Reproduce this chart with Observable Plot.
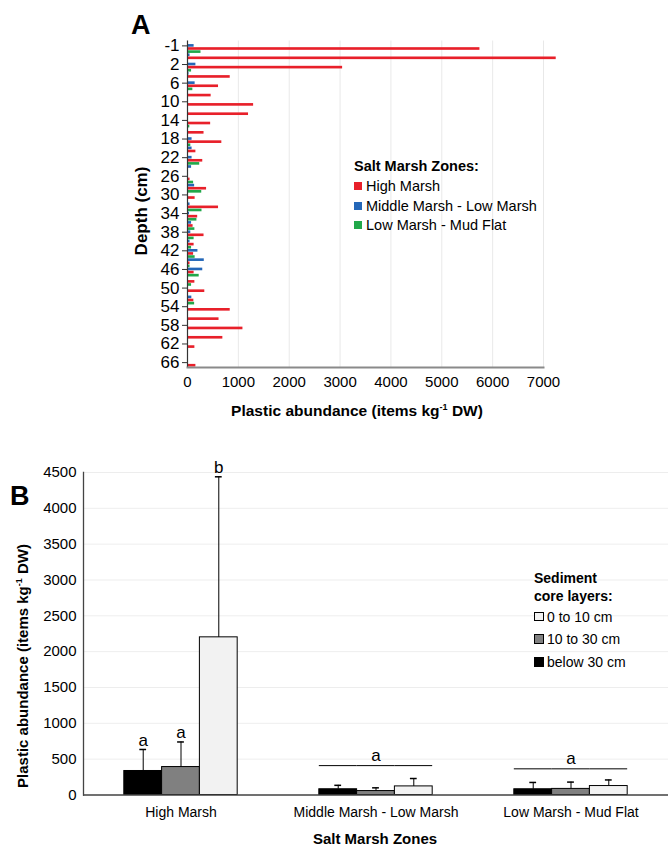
<!DOCTYPE html>
<html><head><meta charset="utf-8">
<script src="https://cdn.jsdelivr.net/npm/d3@7"></script>
<script src="https://cdn.jsdelivr.net/npm/@observablehq/plot@0.6"></script>
<style>
body{margin:0;background:#fff;font-family:"Liberation Sans",Arial,sans-serif;}
#fig{position:relative;width:669px;height:847px;overflow:hidden;background:#fff;}
.t{position:absolute;white-space:nowrap;color:#000;line-height:1;}
.sw{position:absolute;box-sizing:border-box;}
</style></head><body><div id="fig"></div>
<script>
// ---------- Panel A data ----------
const depths = [-1,0,2,4,6,8,10,12,14,16,18,20,22,24,26,28,30,32,34,36,38,40,42,44,46,48,50,52,54,56,58,60,62,64,66];
const highMarsh = [5750,7250,3050,840,610,465,1300,1200,455,325,675,165,300,0,50,375,150,610,200,110,325,130,120,50,130,145,340,125,840,620,1090,695,145,0,165];
const midMarsh  = [130,50,165,30,150,0,0,0,0,0,90,90,90,80,0,140,0,50,40,80,65,50,205,330,300,0,0,85,0,0,0,0,0,0,0];
const lowMarsh  = [0,265,0,80,0,105,0,0,0,45,0,65,0,240,10,120,280,0,285,185,145,130,80,150,50,230,80,0,140,0,0,0,0,0,0];
const zonesA = ["High Marsh","Middle Marsh - Low Marsh","Low Marsh - Mud Flat"];
const zoneColors = ["#e8202a","#2467b8","#21a84a"];
const depthTickLabels = [-1,2,6,10,14,18,22,26,30,34,38,42,46,50,54,58,62,66];
const xTicksA = [0,1000,2000,3000,4000,5000,6000,7000];

// ---------- Panel B data ----------
const zonesB = ["High Marsh","Middle Marsh - Low Marsh","Low Marsh - Mud Flat"];
const layers = ["below 30 cm","10 to 30 cm","0 to 10 cm"];
const layerColors = ["#000000","#808080","#f2f2f2"];
const meanBelow30 = [335,80,80];
const sdBelow30   = [300,55,95];
const mean10to30  = [390,55,85];
const sd10to30    = [350,45,95];
const mean0to10   = [2200,120,125];
const sd0to10     = [2240,110,85];
const lettersHM   = ["a","a","b"];
const bracketLevel = [null,410,365];
const bracketLetter = [null,"a","a"];
const yTicksB = [0,500,1000,1500,2000,2500,3000,3500,4000,4500];

const FONT = '"Liberation Sans", Arial, sans-serif';
const fig = document.getElementById("fig");
const plain = d => String(d);

// ---------- Panel A ----------
const seriesTopToBottom = [zonesA[2], zonesA[1], zonesA[0]];
const key = (d, z) => d + "|" + z;
const seriesVals = {[zonesA[0]]: highMarsh, [zonesA[1]]: midMarsh, [zonesA[2]]: lowMarsh};
const tableA = depths.flatMap((d, i) => seriesTopToBottom.map(z => ({depth: d, zone: z, value: seriesVals[z][i]})));
const yDomainA = depths.flatMap(d => seriesTopToBottom.map(z => key(d, z)));
const yTickKeys = depthTickLabels.map(d => key(d, zonesA[1]));

const plotA = Plot.plot({
  width: 669, height: 430,
  marginLeft: 187, marginRight: 126, marginTop: 40.5, marginBottom: 63,
  style: {fontFamily: FONT, color: "#000", background: "transparent", overflow: "visible"},
  x: {domain: [0, 7000], axis: null},
  y: {domain: yDomainA, padding: 0.15, round: false, axis: null},
  color: {domain: zonesA, range: zoneColors},
  marks: [
    Plot.gridX(xTicksA, {stroke: "#000", strokeOpacity: 0.09}),
    Plot.barX(tableA, {x: "value", y: d => key(d.depth, d.zone), fill: "zone"}),
    Plot.ruleX([0], {stroke: "#333", strokeWidth: 1.2}),
    Plot.frame({anchor: "bottom", stroke: "#8a8a8a", strokeWidth: 2}),
    Plot.axisY(yTickKeys, {tickFormat: k => k.split("|")[0], tickSize: 5, tickPadding: 3, fontSize: 17, label: null, stroke: "#333"}),
    Plot.axisX(xTicksA, {tickFormat: plain, tickSize: 0, tickPadding: 9, fontSize: 15, label: null})
  ]
});
plotA.style.position = "absolute"; plotA.style.left = "0px"; plotA.style.top = "0px";
fig.appendChild(plotA);

// ---------- Panel B ----------
const meansB = [meanBelow30, mean10to30, mean0to10];
const sdsB = [sdBelow30, sd10to30, sd0to10];
const tableB = zonesB.flatMap((z, i) => layers.map((l, j) => ({
  zone: z, layer: l, mean: meansB[j][i], top: meansB[j][i] + sdsB[j][i],
  letter: i === 0 ? lettersHM[j] : null
})));
const bracketRows = zonesB.flatMap((z, i) => bracketLevel[i] == null ? [] : layers.map(l => ({zone: z, layer: l, level: bracketLevel[i]})));
const bracketText = zonesB.flatMap((z, i) => bracketLevel[i] == null ? [] : [{zone: z, layer: layers[1], level: bracketLevel[i], text: bracketLetter[i]}]);

const plotB = Plot.plot({
  width: 669, height: 407,
  marginLeft: 82, marginRight: 0, marginTop: 32, marginBottom: 52.5,
  style: {fontFamily: FONT, color: "#000", background: "transparent", overflow: "visible"},
  fx: {domain: zonesB, padding: 0, axis: null},
  x: {domain: layers, paddingInner: 0, paddingOuter: 1.08, round: false, axis: null},
  y: {domain: [0, 4500], axis: null},
  color: {domain: layers, range: layerColors},
  marks: [
    Plot.gridY(yTicksB, {stroke: "#000", strokeOpacity: 0.07}),
    Plot.barY(tableB, {fx: "zone", x: "layer", y: "mean", fill: "layer", stroke: "#000", strokeWidth: 1}),
    Plot.ruleX(tableB, {fx: "zone", x: "layer", y1: "mean", y2: "top", stroke: "#000", strokeWidth: 1}),
    Plot.tickY(tableB, {fx: "zone", x: "layer", y: "top", insetLeft: 15.5, insetRight: 15.5, stroke: "#000", strokeWidth: 1.5}),
    Plot.text(tableB.filter(d => d.letter), {fx: "zone", x: "layer", y: "top", text: "letter", dy: -9, fontSize: 17}),
    Plot.tickY(bracketRows, {fx: "zone", x: "layer", y: "level", stroke: "#000", strokeWidth: 1}),
    Plot.text(bracketText, {fx: "zone", x: "layer", y: "level", text: "text", dy: -10, fontSize: 17}),
    Plot.ruleY([0], {stroke: "#444", strokeWidth: 1.3}),
    Plot.frame({anchor: "left", facetAnchor: "left", stroke: "#444", strokeWidth: 1.3}),
    Plot.axisY(yTicksB, {tickFormat: plain, tickSize: 0, tickPadding: 7, fontSize: 15, label: null}),
    Plot.axisFx({anchor: "bottom", tickSize: 0, tickPadding: 12, fontSize: 14, label: null})
  ]
});
plotB.style.position = "absolute"; plotB.style.left = "0px"; plotB.style.top = "440px";
fig.appendChild(plotB);

// ---------- HTML text: titles and legends ----------
function txt(html, x, cy, size, bold, opts = {}) {
  const d = document.createElement("div");
  d.className = "t";
  d.innerHTML = html;
  d.style.fontSize = size + "px";
  d.style.fontWeight = bold ? "bold" : "normal";
  d.style.top = cy + "px";
  d.style.left = x + "px";
  if (opts.rotate) d.style.transform = "translate(-50%,-50%) rotate(-90deg)";
  else if (opts.center) d.style.transform = "translate(-50%,-50%)";
  else d.style.transform = "translateY(-50%)";
  fig.appendChild(d);
  return d;
}
function swatch(x, cy, size, fill, border) {
  const s = document.createElement("div");
  s.className = "sw";
  s.style.left = x + "px"; s.style.top = (cy - size / 2) + "px";
  s.style.width = size + "px"; s.style.height = size + "px";
  s.style.background = fill;
  if (border) s.style.border = "1px solid #000";
  fig.appendChild(s);
}
const sup = '<span style="font-size:9px;position:relative;top:-6px">-1</span>';

txt("A", 131, 25, 27, true);
txt("Depth (cm)", 141, 211, 17, true, {rotate: true});
txt("Plastic abundance (items kg" + sup + " DW)", 357, 411, 15.5, true, {center: true});

txt("Salt Marsh Zones:", 354, 166, 14.5, true);
zonesA.forEach((z, i) => {
  swatch(354, 186 + i * 19.5, 8, zoneColors[i], false);
  txt(z, 366, 186 + i * 19.5, 14.5, false);
});

txt("B", 10, 496, 27, true);
txt("Plastic abundance (items kg" + sup + " DW)", 22, 666, 15, true, {rotate: true});
txt("Salt Marsh Zones", 375, 838, 15, true, {center: true});

txt("Sediment", 534, 578, 14, true);
txt("core layers:", 534, 595.5, 14, true);
const legendOrderB = [2, 1, 0];
legendOrderB.forEach((j, k) => {
  swatch(534, 616.5 + k * 22.7, 9.5, layerColors[j], true);
  txt(layers[j], 547, 616.5 + k * 22.7, 14, false);
});
</script>
</body></html>
